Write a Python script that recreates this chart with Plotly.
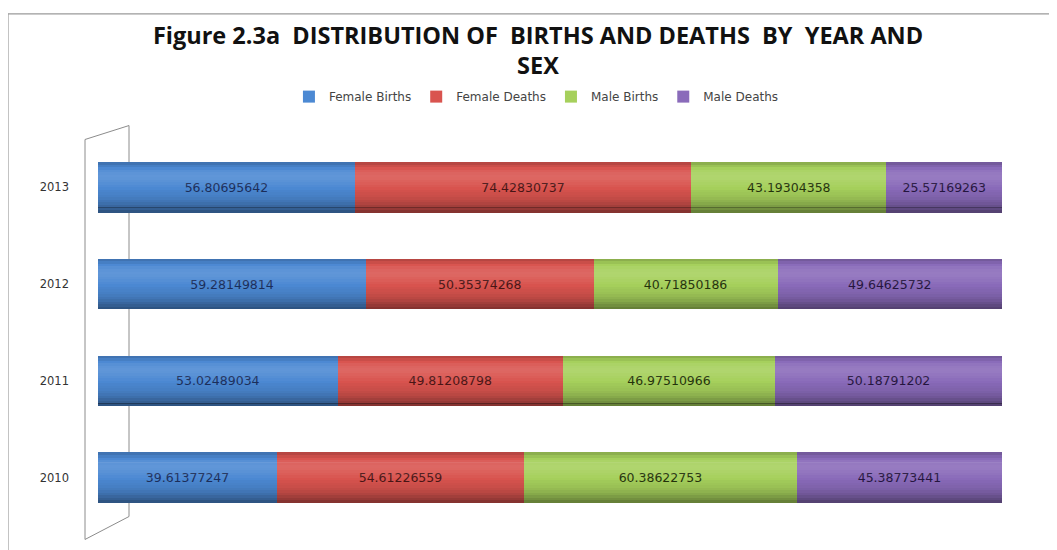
import plotly.graph_objects as go
import numpy as np

years = ["2010", "2011", "2012", "2013"]
female_births = [39.61377247, 53.02489034, 59.28149814, 56.80695642]
female_deaths = [54.61226559, 49.81208798, 50.35374268, 74.42830737]
male_births = [60.38622753, 46.97510966, 40.71850186, 43.19304358]
male_deaths = [45.38773441, 50.18791202, 49.64625732, 25.57169263]

series = [
    ("Female Births", female_births, "#4C89D3", "#1c2f5c"),
    ("Female Deaths", female_deaths, "#D9544F", "#4a1616"),
    ("Male Births", male_births, "#A6D05C", "#25330c"),
    ("Male Deaths", male_deaths, "#8A6BBA", "#261640"),
]

# the page puts the figure 8px in from the top-left corner
OFF = 8
FW, FH = 1057 - OFF, 550 - OFF
# plot area in page pixels
PX0, PX1, PY0, PY1 = 98, 1002, 138.5, 526.5
L, R = PX0 - OFF, FW - (PX1 - OFF)
T, B = PY0 - OFF, FH - (PY1 - OFF)


def px(x):
    return (x - PX0) / (PX1 - PX0)


def py(y):
    return (PY1 - y) / (PY1 - PY0)


fig = go.Figure()
for name, vals, col, tcol in series:
    fig.add_trace(go.Bar(
        y=years, x=vals, name=name, orientation="h",
        marker=dict(color=col, line=dict(width=0)),
        text=[f"{v:.8f}".rstrip("0") for v in vals],
        textposition="inside", insidetextanchor="middle", textangle=0,
        textfont=dict(family="DejaVu Sans", size=12.5, color=tcol),
        width=0.52, hoverinfo="x+y+name",
    ))

# cylinder shading (styling only): thin translucent bands on overlay axes, built from row totals
totals = [a + b + c + d for a, b, c, d in zip(female_births, female_deaths, male_births, male_deaths)]
prof_f = [0.0, 0.1, 0.2, 0.3, 0.45, 0.55, 0.7, 0.8, 0.9, 1.0]
prof_a = [-0.42, -0.28, -0.16, -0.08, -0.02, 0.04, 0.12, 0.09, -0.02, -0.2]
bw = 0.52
n = 20
for i in range(n):
    f = (i + 0.5) / n
    a = float(np.interp(f, prof_f, prof_a))
    col = f"rgba(0,0,0,{-a:.3f})" if a < 0 else f"rgba(255,255,255,{a:.3f})"
    k = i + 2
    fig.add_trace(go.Bar(
        y=years, x=totals, orientation="h", yaxis=f"y{k}",
        offset=-bw / 2 + i * bw / n, width=bw / n * 1.02,
        marker=dict(color=col, line=dict(width=0)),
        showlegend=False, hoverinfo="skip",
    ))
    fig.layout[f"yaxis{k}"] = dict(overlaying="y", matches="y", visible=False,
                                   type="category")

shapes = []
# outer chart border (top and left)
shapes.append(dict(type="line", xref="paper", yref="paper", x0=px(8), y0=py(13), x1=px(1070), y1=py(13),
                   line=dict(color="#9a9a9a", width=1.2)))
shapes.append(dict(type="line", xref="paper", yref="paper", x0=px(8), y0=py(13), x1=px(8), y1=py(570),
                   line=dict(color="#9a9a9a", width=1.2)))
# 3-D side wall
wall = [(85, 139), (129, 125), (129, 517), (85, 540)]
path = "M " + " L ".join(f"{px(a)},{py(b)}" for a, b in wall) + " Z"
shapes.append(dict(type="path", xref="paper", yref="paper", path=path,
                   line=dict(color="#8c8c8c", width=1), layer="below"))

fig.update_layout(
    width=FW, height=FH,
    barmode="stack", barnorm="percent",
    paper_bgcolor="white", plot_bgcolor="white",
    margin=dict(l=L, r=R, t=T, b=B, autoexpand=False),
    title=dict(
        text="Figure 2.3a  DISTRIBUTION OF  BIRTHS AND DEATHS  BY  YEAR AND<br>SEX",
        x=(538 - OFF) / FW, xanchor="center",
        y=1 - 35.5 / FH, yanchor="middle",
        font=dict(family="Open Sans", size=23.5, color="#111111", weight="bold"),
    ),
    legend=dict(orientation="h", x=0.485, xanchor="center", y=py(96), yanchor="middle",
                font=dict(family="DejaVu Sans", size=12, color="#444444"),
                itemwidth=30, traceorder="normal"),
    xaxis=dict(range=[0, 100], visible=False, showgrid=False, fixedrange=True),
    yaxis=dict(type="category", categoryorder="array", categoryarray=years,
               range=[-0.5, 3.5], showgrid=False, zeroline=False, showline=False,
               ticks="", ticklabelstandoff=28,
               tickfont=dict(family="DejaVu Sans", size=11.5, color="#333333")),
    shapes=shapes,
)

fig.write_html("out.html")
